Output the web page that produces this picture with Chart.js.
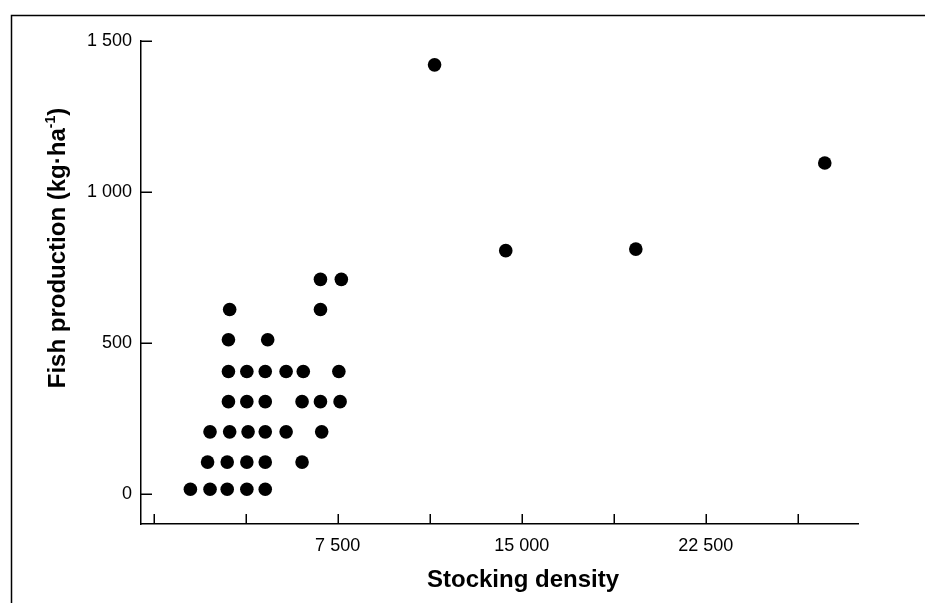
<!DOCTYPE html>
<html>
<head>
<meta charset="utf-8">
<title>Fish production vs stocking density</title>
<script src="https://cdn.jsdelivr.net/npm/chart.js@4/dist/chart.umd.min.js"></script>
<style>
  html, body { margin: 0; padding: 0; background: #fff; }
  canvas { display: block; }
</style>
</head>
<body>
<canvas id="chart" width="925" height="603"></canvas>
<script>
// Stocking density (x) and fish production in kg/ha (y), one entry per pond
const stockingDensity = [
  6800, 7650,
  3100, 6800,
  3050, 4650,
  3050, 3800, 4550, 5400, 6100, 7550,
  3050, 3800, 4550, 6050, 6800, 7600,
  2300, 3100, 3850, 4550, 5400, 6850,
  2200, 3000, 3800, 4550, 6050,
  1500, 2300, 3000, 3800, 4550,
  11450, 14350, 19650, 27350
];
const fishProduction = [
  710, 710,
  610, 610,
  510, 510,
  405, 405, 405, 405, 405, 405,
  305, 305, 305, 305, 305, 305,
  205, 205, 205, 205, 205, 205,
  105, 105, 105, 105, 105,
  15, 15, 15, 15, 15,
  1420, 805, 810, 1095
];

// Axis ticks
const xTickValues = [0, 3750, 7500, 11250, 15000, 18750, 22500, 26250];
const xLabelledTicks = [7500, 15000, 22500];
const yTickValues = [0, 500, 1000, 1500];

// Axis titles
const xTitle = 'Stocking density';
const yTitleMain = 'Fish production (kg\u00B7ha';
const yTitleSup = '-1';
const yTitleEnd = ')';

const FONT = '"Liberation Sans", Arial, Helvetica, sans-serif';

// Thousands separated with a space: 22 500
const fmt = v => String(v).replace(/\B(?=(\d{3})+(?!\d))/g, ' ');

// White page, inward tick marks, outer frame lines and axis titles
const decorations = {
  id: 'decorations',
  beforeDraw(chart) {
    const { ctx, width, height } = chart;
    ctx.save();
    ctx.fillStyle = '#fff';
    ctx.fillRect(0, 0, width, height);
    ctx.restore();
  },
  afterDraw(chart) {
    const { ctx, chartArea, scales: { x, y } } = chart;
    ctx.save();
    ctx.strokeStyle = '#000';
    ctx.lineWidth = 1.5;
    ctx.beginPath();
    yTickValues.forEach(v => {
      const py = Math.round(y.getPixelForValue(v)) + 0.25;
      ctx.moveTo(chartArea.left, py);
      ctx.lineTo(chartArea.left + 11, py);
    });
    xTickValues.forEach(v => {
      const px = Math.round(x.getPixelForValue(v)) + 0.25;
      ctx.moveTo(px, chartArea.bottom);
      ctx.lineTo(px, chartArea.bottom - 10);
    });
    ctx.stroke();

    // frame: left and top rules
    ctx.beginPath();
    ctx.moveTo(11.5, 603);
    ctx.lineTo(11.5, 15.5);
    ctx.lineTo(925, 15.5);
    ctx.stroke();

    ctx.fillStyle = '#000';
    // x title
    ctx.font = 'bold 24px ' + FONT;
    ctx.textAlign = 'center';
    ctx.textBaseline = 'alphabetic';
    ctx.fillText(xTitle, 523, 587);

    // y title, rotated, with superscript exponent
    const big = 'bold 24px ' + FONT;
    const small = 'bold 14px ' + FONT;
    ctx.font = big;
    const wMain = ctx.measureText(yTitleMain).width;
    const wEnd = ctx.measureText(yTitleEnd).width;
    ctx.font = small;
    const wSup = ctx.measureText(yTitleSup).width;
    const total = wMain + wSup + wEnd;
    ctx.translate(65, 248);
    ctx.rotate(-Math.PI / 2);
    ctx.textAlign = 'left';
    let cx = -total / 2;
    ctx.font = big;
    ctx.fillText(yTitleMain, cx, 0);
    cx += wMain;
    ctx.font = small;
    ctx.fillText(yTitleSup, cx, -10);
    cx += wSup;
    ctx.font = big;
    ctx.fillText(yTitleEnd, cx, 0);
    ctx.restore();
  }
};

new Chart(document.getElementById('chart'), {
  type: 'scatter',
  data: {
    datasets: [{
      data: stockingDensity.map((sx, i) => ({ x: sx, y: fishProduction[i] })),
      backgroundColor: '#000',
      borderColor: '#000',
      borderWidth: 0,
      pointRadius: 6.8,
      pointHoverRadius: 6.8
    }]
  },
  options: {
    responsive: false,
    animation: false,
    devicePixelRatio: 1,
    events: [],
    layout: { padding: { left: 0, right: 67, top: 40.7, bottom: 0 } },
    plugins: { legend: { display: false }, tooltip: { enabled: false } },
    scales: {
      x: {
        type: 'linear',
        position: 'bottom',
        min: -513,
        max: 28704,
        afterBuildTicks: s => { s.ticks = xTickValues.map(v => ({ value: v })); },
        afterFit: s => { s.height = 79; },
        grid: { display: true, drawOnChartArea: false, drawTicks: false },
        border: { display: true, color: '#000', width: 1.5 },
        ticks: {
          autoSkip: false,
          maxRotation: 0,
          padding: 11,
          color: '#000',
          font: { family: FONT, size: 18 },
          callback: v => xLabelledTicks.includes(v) ? fmt(v) : ''
        }
      },
      y: {
        type: 'linear',
        position: 'left',
        min: -100,
        max: 1500,
        afterBuildTicks: s => { s.ticks = yTickValues.map(v => ({ value: v })); },
        afterFit: s => { s.width = 141; },
        grid: { display: true, drawOnChartArea: false, drawTicks: false },
        border: { display: true, color: '#000', width: 1.5 },
        ticks: {
          autoSkip: false,
          padding: 9,
          color: '#000',
          font: { family: FONT, size: 18 },
          callback: v => fmt(v)
        }
      }
    }
  },
  plugins: [decorations]
});
</script>
</body>
</html>
